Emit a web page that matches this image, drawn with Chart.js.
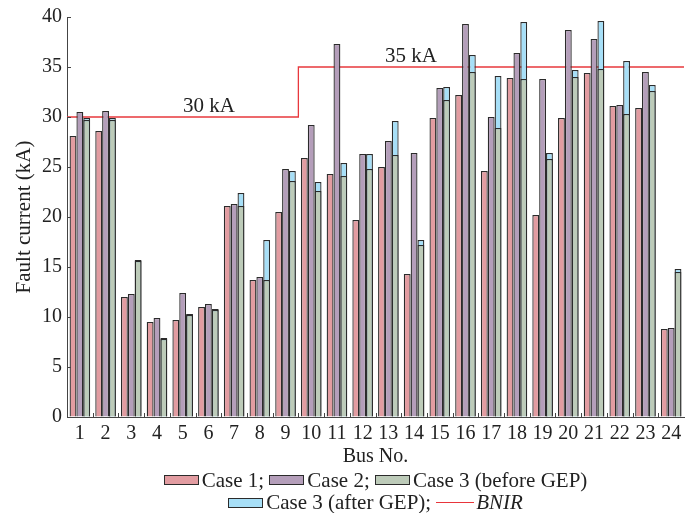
<!DOCTYPE html>
<html>
<head>
<meta charset="utf-8">
<script src="https://cdn.jsdelivr.net/npm/chart.js@4.4.1/dist/chart.umd.min.js"></script>
<style>
  html,body{margin:0;padding:0;background:#fff;}
  #wrap{position:relative;width:694px;height:513px;font-family:'Liberation Serif','Times New Roman',serif;color:#222;}
  #legend{position:absolute;left:67px;top:469px;width:617px;font-size:21px;}
  .row{display:flex;justify-content:center;align-items:center;height:22.5px;white-space:pre;}
  .box{display:inline-block;width:33px;height:8px;border:1.5px solid #2b2b2b;margin-right:3px;}
  .ln{display:inline-block;width:38px;height:0;border-top:1.3px solid #e8353b;margin:0 2px 0 5px;}
</style>
</head>
<body>
<div id="wrap">
  <canvas id="faultChart" width="694" height="513"></canvas>
  <div id="legend"></div>
</div>
<script>
// bus numbers and fault currents (kA)
const buses = ['1','2','3','4','5','6','7','8','9','10','11','12','13','14','15','16','17','18','19','20','21','22','23','24'];
const case1 = [28.1,28.6,12.0,9.5,9.7,11.0,21.1,13.7,20.5,25.9,24.3,19.7,25.0,14.3,29.9,32.2,24.6,33.9,20.2,29.9,34.4,31.1,30.9,8.8];
const case2 = [30.5,30.6,12.3,9.9,12.4,11.3,21.3,14.0,24.8,29.2,37.3,26.3,27.6,26.4,32.9,39.3,30.0,36.4,33.8,38.7,37.8,31.2,34.5,8.9];
const case3Before = [29.7,29.7,15.6,7.8,10.2,10.7,21.1,13.7,23.6,22.6,24.1,24.8,26.2,17.2,31.7,34.5,28.9,33.8,25.8,34.0,34.8,30.3,32.6,14.5];
const case3After = [29.9,29.9,15.7,7.9,10.3,10.8,22.4,17.7,24.6,23.5,25.4,26.3,29.6,17.7,33.0,36.2,34.1,39.5,26.4,34.7,39.6,35.6,33.2,14.8];
// BNIR limit; x in bus-slot units (0 = left edge of bus 1, 24 = right edge of bus 24)
const bnirX = [0,9,9,24];
const bnirY = [30,30,35,35];
const bnirText = ['30 kA','35 kA'];
const bnirTextX = [5.52,13.38];
const bnirTextY = [30,35];
const yTicks = [0,5,10,15,20,25,30,35,40];

const FONT = "'Liberation Serif','Times New Roman',serif";
const EDGE = '#2b2b2b';

// slot units -> pixels on the category axis
const slotPx = (sx,b)=>sx.getPixelForDecimal(b/buses.length);

// BNIR limit line, behind the bars
const bnirLine = {
  id:'bnirLine',
  beforeDatasetsDraw(chart){
    const {ctx, scales} = chart;
    ctx.save();
    ctx.strokeStyle = '#e8383d'; ctx.lineWidth = 1.3;
    ctx.beginPath();
    bnirX.forEach((b,i)=>{
      const x = slotPx(scales.x,b), y = scales.y.getPixelForValue(bnirY[i]);
      if(i===0) ctx.moveTo(x,y); else ctx.lineTo(x,y);
    });
    ctx.stroke();
    ctx.restore();
  }
};

// short inward ticks + the limit labels
const axisDecor = {
  id:'axisDecor',
  afterDraw(chart){
    const {ctx, chartArea:a, scales} = chart;
    ctx.save();
    ctx.strokeStyle = '#444'; ctx.lineWidth = 1;
    yTicks.forEach(v=>{
      const y = Math.round(scales.y.getPixelForValue(v))+0.5;
      ctx.beginPath(); ctx.moveTo(a.left,y); ctx.lineTo(a.left+4,y); ctx.stroke();
    });
    for(let i=1;i<buses.length;i++){
      const x = Math.round(slotPx(scales.x,i))+0.5;
      ctx.beginPath(); ctx.moveTo(x,a.bottom); ctx.lineTo(x,a.bottom-4); ctx.stroke();
    }
    ctx.fillStyle = '#222';
    ctx.font = '21px ' + FONT;
    ctx.textAlign = 'center'; ctx.textBaseline = 'alphabetic';
    bnirText.forEach((t,i)=>{
      ctx.fillText(t, slotPx(scales.x,bnirTextX[i]), scales.y.getPixelForValue(bnirTextY[i]) - 5);
    });
    ctx.restore();
  }
};

const ctx = document.getElementById('faultChart').getContext('2d');
new Chart(ctx,{
  type:'bar',
  data:{
    labels:buses,
    datasets:[
      {label:'Case 1', data:case1, backgroundColor:'#e29ca1', borderColor:EDGE, borderWidth:1.3, stack:'c1'},
      {label:'Case 2', data:case2, backgroundColor:'#b49eba', borderColor:EDGE, borderWidth:1.3, stack:'c2'},
      {label:'Case 3 (before GEP)', data:case3Before, backgroundColor:'#bdcbb9', borderColor:EDGE, borderWidth:1.3, stack:'c3'},
      {label:'Case 3 (after GEP)', data:case3After, backgroundColor:'#a7dff7', borderColor:EDGE, borderWidth:1.3, stack:'c3'}
    ]
  },
  options:{
    responsive:false, animation:false,
    datasets:{bar:{categoryPercentage:0.8, barPercentage:1.0}},
    layout:{padding:{left:0,right:10,top:17,bottom:44}},
    plugins:{legend:{display:false}, tooltip:{enabled:false}},
    scales:{
      x:{
        afterFit(s){ s.height = 52; },
        grid:{display:true, drawOnChartArea:false, drawTicks:false, color:'#444'},
        border:{display:true, color:'#444', width:1},
        ticks:{color:'#222', padding:7, font:{family:FONT, size:20, lineHeight:1}, maxRotation:0, autoSkip:false},
        title:{display:true, text:'Bus No.', color:'#222', font:{family:FONT, size:20, lineHeight:1.2}, padding:{top:0,bottom:0}}
      },
      y:{
        min:0, max:40, stacked:false,
        afterFit(s){ s.width = 67; },
        afterBuildTicks(s){ s.ticks = yTicks.map(v=>({value:v})); },
        grid:{display:true, drawOnChartArea:false, drawTicks:false, color:'#444'},
        border:{display:true, color:'#444', width:1},
        ticks:{color:'#222', padding:5, font:{family:FONT, size:20}},
        title:{display:true, text:'Fault current (kA)', color:'#222', font:{family:FONT, size:21}, padding:{top:12,bottom:0}}
      }
    }
  },
  plugins:[bnirLine, axisDecor]
});

// legend: two rows centred under the plot area, like the figure
const lg = document.getElementById('legend');
lg.innerHTML =
  '<div class="row"><span class="box" style="background:#e29ca1"></span>Case 1; ' +
  '<span class="box" style="background:#b49eba"></span>Case 2; ' +
  '<span class="box" style="background:#bdcbb9"></span>Case 3 (before GEP)</div>' +
  '<div class="row"><span class="box" style="background:#a7dff7"></span>Case 3 (after GEP);' +
  '<span class="ln"></span><i>BNIR</i></div>';
</script>
</body>
</html>
